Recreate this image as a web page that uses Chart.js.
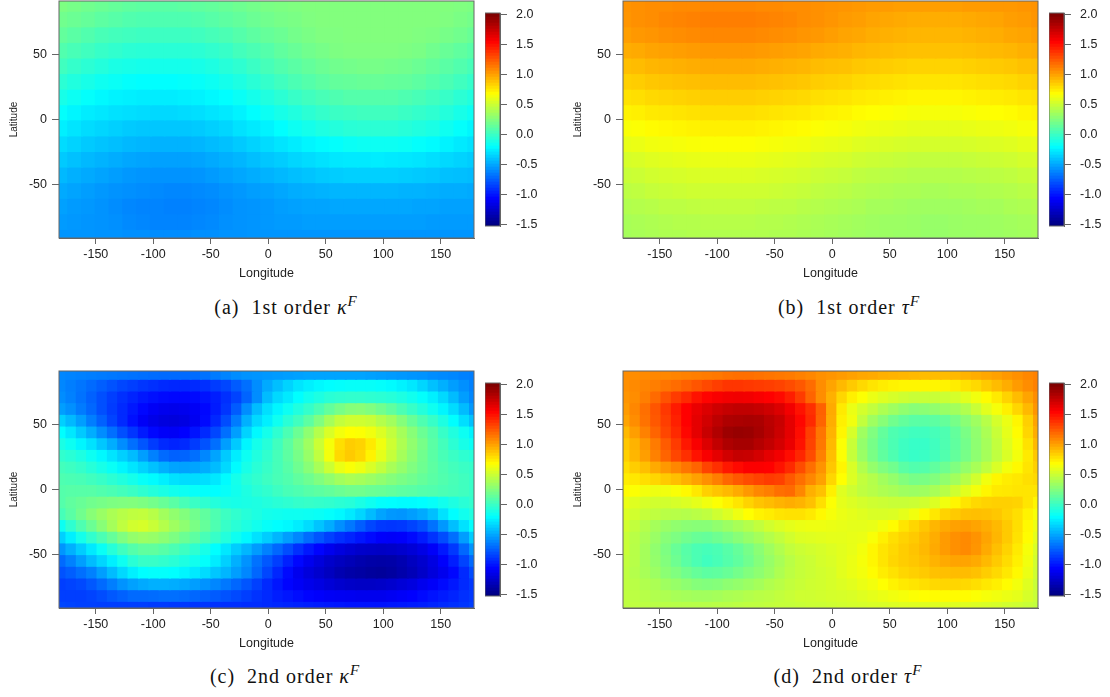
<!DOCTYPE html>
<html>
<head>
<meta charset="utf-8">
<title>Fitted surfaces</title>
<script src="https://cdn.jsdelivr.net/npm/chart.js@4/dist/chart.umd.js"></script>
<style>
    body { margin: 0; background: #fff; width: 1110px; height: 697px; position: relative; overflow: hidden; }
    canvas { position: absolute; }
    .cap { position: absolute; font-family: "Liberation Serif", serif; font-size: 20px; letter-spacing: 1px; color: #111; white-space: pre; transform: translateX(-50%); line-height: 24px; }
    .cap i { font-size: 20px; }
    .cap sup { font-size: 15px; font-style: italic; line-height: 0; }
</style>
</head>
<body>
<script>
// ============================================================================
// DATA (all cell values in hundredths)
// ============================================================================
const lonsFirst = [-180,-168,-156,-144,-132,-120,-108,-96,-84,-72,-60,-48,-36,-24,-12,0,12,24,36,48,60,72,84,96,108,120,132,144,156,168,180];
const latsFirst = [90,78,66,54,42,30,18,6,-6,-18,-30,-42,-54,-66,-78,-90];

const lonsSecond = [-180,-171,-162,-153,-144,-135,-126,-117,-108,-99,-90,-81,-72,-63,-54,-45,-36,-27,-18,-9,0,9,18,27,36,45,54,63,72,81,90,99,108,117,126,135,144,153,162,171,180];
const latsSecond = [90,81,72,63,54,45,36,27,18,9,0,-9,-18,-27,-36,-45,-54,-63,-72,-81,-90];

const kappa1 = [
[24,22,20,18,16,14,13,12,12,13,14,15,17,19,21,23,24,25,26,26,26,26,26,26,26,26,26,26,26,25,24],
[20,18,16,13,11,9,8,8,8,8,9,11,13,15,18,20,22,23,25,26,26,26,26,26,26,26,26,26,25,23,21],
[15,12,9,6,4,3,2,2,2,2,3,5,7,10,13,16,18,21,23,25,25,26,26,26,26,26,25,24,22,20,17],
[9,6,3,0,-2,-4,-5,-5,-5,-5,-4,-2,0,4,7,10,14,17,20,22,24,25,25,25,25,24,23,20,17,14,11],
[3,-1,-4,-7,-10,-11,-12,-12,-12,-12,-11,-9,-6,-3,1,5,9,12,15,18,20,21,22,22,21,20,18,15,12,9,5],
[-4,-8,-11,-14,-16,-18,-19,-19,-19,-18,-17,-15,-12,-9,-5,-1,3,7,10,13,15,16,17,17,16,15,13,10,7,3,-1],
[-11,-15,-18,-21,-23,-24,-25,-25,-25,-24,-23,-21,-19,-16,-12,-8,-4,0,3,6,8,10,10,10,10,8,6,3,0,-4,-8],
[-18,-22,-25,-27,-29,-30,-31,-32,-32,-31,-30,-28,-26,-23,-19,-15,-11,-8,-4,-1,1,2,3,3,3,1,-1,-3,-7,-11,-15],
[-24,-28,-31,-33,-35,-37,-38,-38,-38,-38,-37,-35,-33,-29,-26,-23,-19,-15,-12,-9,-7,-5,-4,-4,-4,-6,-8,-10,-14,-18,-22],
[-31,-34,-37,-39,-41,-43,-44,-45,-45,-45,-44,-42,-40,-37,-34,-31,-28,-25,-22,-20,-18,-16,-15,-15,-15,-16,-18,-20,-23,-26,-29],
[-37,-40,-43,-45,-47,-49,-50,-51,-51,-51,-50,-48,-46,-44,-41,-38,-36,-33,-31,-29,-27,-26,-26,-25,-26,-27,-28,-30,-32,-34,-36],
[-43,-46,-48,-50,-52,-54,-55,-56,-56,-56,-55,-53,-51,-49,-47,-45,-43,-41,-39,-37,-36,-35,-35,-35,-35,-36,-37,-38,-40,-41,-42],
[-48,-50,-52,-54,-56,-57,-58,-59,-60,-60,-59,-58,-56,-54,-52,-51,-49,-47,-46,-45,-44,-44,-44,-44,-44,-45,-45,-46,-47,-47,-48],
[-51,-53,-54,-56,-58,-60,-61,-61,-62,-62,-61,-60,-58,-56,-55,-54,-52,-51,-50,-50,-49,-49,-49,-49,-49,-49,-50,-50,-51,-51,-51],
[-53,-54,-55,-56,-57,-59,-60,-61,-61,-61,-60,-59,-57,-56,-55,-54,-53,-53,-52,-52,-52,-52,-52,-52,-52,-52,-52,-53,-53,-53,-53],
[-55,-55,-55,-56,-56,-57,-57,-58,-58,-58,-57,-57,-56,-56,-55,-55,-55,-55,-55,-55,-55,-55,-55,-55,-55,-55,-55,-55,-55,-55,-55]
];

const tau1 = [
[106,107,108,108,109,109,110,110,110,110,109,109,108,108,107,106,105,104,103,103,102,102,102,102,102,103,103,104,104,105,106],
[105,107,108,110,111,112,113,113,113,113,112,111,110,108,107,105,103,102,100,99,98,97,97,97,97,98,99,100,102,103,105],
[102,104,105,107,108,109,110,110,110,110,109,108,107,105,104,102,100,99,97,96,95,94,94,94,94,95,96,97,99,100,102],
[97,98,100,101,102,103,104,104,104,104,103,102,101,100,98,97,96,94,93,92,91,90,90,90,90,91,92,93,94,96,97],
[91,92,94,95,96,97,98,98,98,98,97,96,95,94,92,91,90,88,87,86,85,84,84,84,84,85,86,87,88,90,91],
[85,86,88,89,90,91,92,92,92,92,91,90,89,88,86,85,84,82,81,80,79,78,78,78,78,79,80,81,82,84,85],
[79,80,82,83,84,85,86,86,86,86,85,84,83,82,80,79,78,76,75,74,73,72,72,72,72,73,74,75,76,78,79],
[73,74,76,77,78,79,80,80,80,80,79,78,77,76,74,73,72,70,69,68,67,66,66,66,66,67,68,69,70,72,73],
[67,68,70,71,72,73,74,74,74,74,73,72,71,70,68,67,66,64,63,62,61,60,60,60,60,61,62,63,64,66,67],
[61,62,64,65,66,67,68,68,68,68,67,66,65,64,62,61,60,58,57,56,55,54,54,54,54,55,56,57,58,60,61],
[55,56,58,59,60,61,62,62,62,62,61,60,59,58,56,55,54,52,51,50,49,48,48,48,48,49,50,51,52,54,55],
[50,51,53,54,55,56,57,57,57,57,56,55,54,53,51,50,49,47,46,45,44,43,43,43,43,44,45,46,47,49,50],
[46,47,49,50,51,52,52,52,52,52,52,51,50,49,47,46,45,43,42,41,40,40,39,39,40,40,41,42,43,45,46],
[42,43,44,46,46,47,48,48,48,48,47,46,46,44,43,42,41,40,38,38,37,36,36,36,36,37,38,38,40,41,42],
[39,40,41,42,43,43,44,44,44,44,43,43,42,41,40,39,38,37,36,35,35,34,33,33,34,35,35,36,37,38,39],
[38,39,40,41,41,42,42,42,42,42,42,41,41,40,39,38,37,36,35,35,34,34,33,33,34,34,35,35,36,37,38]
];

const kappa2 = [
[-60,-61,-62,-63,-64,-65,-66,-67,-68,-69,-70,-70,-70,-69,-67,-64,-61,-58,-56,-55,-54,-53,-52,-51,-50,-50,-50,-50,-50,-50,-51,-52,-53,-54,-55,-56,-58,-59,-60,-62,-63],
[-60,-63,-66,-70,-74,-78,-82,-85,-88,-90,-92,-93,-93,-92,-90,-86,-82,-75,-68,-58,-48,-41,-34,-28,-24,-21,-19,-18,-17,-17,-17,-18,-20,-23,-27,-33,-40,-46,-52,-57,-62],
[-58,-62,-67,-73,-79,-85,-90,-94,-98,-101,-103,-104,-104,-103,-100,-96,-90,-83,-72,-58,-42,-32,-26,-19,-13,-9,-5,-3,-2,-2,-3,-4,-6,-9,-13,-18,-24,-32,-42,-52,-60],
[-52,-57,-64,-71,-79,-86,-92,-98,-104,-109,-112,-113,-112,-109,-104,-97,-88,-75,-58,-42,-30,-22,-15,-8,-1,7,15,22,27,28,25,20,14,7,0,-7,-14,-22,-31,-42,-54],
[-35,-43,-52,-63,-73,-83,-92,-101,-109,-114,-117,-118,-116,-111,-103,-93,-80,-64,-46,-32,-24,-14,-5,3,13,25,38,48,52,52,50,43,37,27,17,8,0,-9,-19,-30,-40],
[-19,-27,-37,-47,-58,-68,-79,-88,-97,-104,-108,-109,-106,-100,-92,-82,-68,-52,-34,-21,-12,-3,7,18,30,43,56,65,69,68,64,57,48,38,28,18,10,0,-8,-15,-23],
[-10,-15,-22,-29,-38,-47,-58,-68,-77,-86,-92,-94,-92,-86,-78,-68,-52,-37,-22,-12,-6,3,13,24,36,51,66,80,86,84,76,64,52,41,31,22,12,4,-4,-11,-16],
[-2,-5,-9,-15,-21,-28,-35,-42,-52,-62,-70,-73,-72,-68,-60,-50,-37,-25,-15,-8,-2,5,13,22,33,47,65,82,87,83,73,60,49,38,29,20,12,6,1,-3,-6],
[4,2,-1,-6,-11,-16,-22,-28,-34,-40,-46,-50,-51,-50,-47,-42,-32,-20,-11,-5,0,5,11,19,28,39,51,62,67,63,56,48,39,32,25,19,13,8,4,1,-1],
[8,7,6,3,0,-4,-8,-12,-17,-20,-24,-29,-31,-31,-30,-27,-20,-12,-6,-2,2,6,9,14,19,25,31,37,40,38,35,31,27,23,20,16,12,9,6,3,0],
[10,11,11,11,9,7,4,1,-3,-7,-10,-13,-15,-17,-18,-19,-17,-13,-9,-5,-2,2,6,8,11,13,15,18,20,20,18,17,15,13,12,10,9,7,5,3,0],
[10,14,17,20,22,24,25,26,24,21,17,12,6,1,-3,-7,-10,-11,-10,-9,-7,-5,-3,-1,0,-1,-2,-4,-6,-10,-14,-18,-19,-20,-20,-19,-17,-13,-9,-5,-2],
[5,12,20,28,34,40,44,47,48,44,37,31,26,20,14,8,2,-2,-6,-9,-12,-13,-14,-14,-15,-16,-18,-21,-26,-33,-42,-50,-54,-55,-52,-48,-41,-29,-19,-13,-8],
[-15,-3,8,18,28,38,47,53,55,50,43,36,30,23,16,8,0,-5,-9,-13,-17,-19,-21,-25,-31,-39,-47,-57,-65,-74,-82,-87,-88,-87,-83,-78,-67,-54,-41,-29,-18],
[-35,-24,-12,-2,7,16,25,32,35,33,29,24,18,13,6,0,-7,-14,-21,-29,-36,-44,-52,-60,-69,-77,-84,-90,-94,-99,-103,-107,-108,-107,-103,-97,-89,-80,-68,-52,-36],
[-55,-46,-36,-26,-16,-6,3,10,14,14,11,7,2,-3,-11,-19,-27,-36,-44,-53,-62,-71,-80,-90,-98,-105,-112,-117,-121,-124,-125,-126,-125,-123,-120,-115,-108,-98,-87,-71,-55],
[-70,-62,-52,-42,-33,-24,-14,-5,0,0,-2,-5,-9,-13,-18,-25,-35,-46,-56,-67,-76,-85,-95,-104,-112,-118,-124,-128,-131,-134,-136,-137,-136,-133,-128,-123,-116,-107,-96,-83,-70],
[-78,-74,-68,-62,-52,-42,-32,-24,-19,-18,-18,-19,-22,-26,-31,-38,-44,-52,-60,-71,-82,-93,-103,-112,-118,-123,-128,-133,-136,-138,-140,-141,-139,-135,-131,-125,-118,-112,-104,-92,-80],
[-85,-83,-81,-76,-70,-63,-56,-51,-48,-46,-46,-47,-49,-52,-56,-60,-65,-71,-77,-84,-92,-99,-105,-109,-113,-116,-120,-123,-125,-126,-126,-125,-123,-120,-117,-112,-108,-103,-98,-92,-87],
[-85,-85,-85,-83,-80,-76,-73,-70,-70,-69,-68,-68,-69,-71,-73,-75,-78,-81,-85,-89,-92,-96,-99,-102,-105,-107,-109,-110,-111,-112,-112,-112,-110,-108,-106,-103,-100,-97,-94,-90,-87],
[-82,-83,-84,-84,-85,-85,-85,-85,-85,-86,-86,-87,-87,-88,-88,-89,-90,-90,-91,-91,-92,-93,-94,-95,-96,-97,-98,-99,-100,-100,-100,-100,-99,-98,-97,-96,-94,-92,-90,-88,-85]
];

const tau2 = [
[108,108,109,110,110,111,112,113,114,115,117,118,118,117,116,115,114,112,110,107,105,103,101,99,98,96,95,94,93,92,92,92,93,95,97,99,101,104,107,110,112],
[107,109,111,113,116,119,123,127,131,135,138,138,137,136,135,133,130,126,119,108,100,93,87,82,78,75,73,72,72,72,72,73,75,79,82,87,92,97,103,108,112],
[105,108,113,120,128,136,142,150,155,158,160,161,160,158,156,153,146,136,122,108,96,83,74,68,62,58,55,52,50,50,50,51,54,59,64,70,76,84,92,100,108],
[103,110,118,127,137,147,156,163,168,173,176,178,178,176,173,168,160,150,140,123,98,76,62,54,48,41,36,31,28,29,31,34,37,42,50,59,66,74,83,93,105],
[100,108,117,126,135,145,156,165,172,179,184,185,186,185,180,175,165,154,142,122,97,74,64,48,36,28,20,15,12,12,13,16,22,29,36,44,54,62,72,85,100],
[93,102,112,122,132,142,154,165,175,183,190,192,191,187,181,174,165,152,135,116,95,72,55,36,25,15,8,5,3,3,5,8,15,23,31,40,50,60,70,83,97],
[88,95,104,114,125,136,148,158,168,177,184,187,187,182,177,171,163,150,133,115,93,68,50,32,22,13,7,2,0,0,3,8,14,21,30,38,48,58,67,79,93],
[85,94,102,112,122,132,140,150,158,165,172,176,175,171,165,160,152,143,130,112,91,68,49,34,23,14,8,2,0,1,4,9,15,22,30,38,47,56,65,76,88],
[80,86,91,98,104,110,116,122,133,140,148,153,157,157,156,150,142,130,118,106,88,72,56,42,32,25,20,12,9,10,14,19,25,32,39,47,56,65,71,78,85],
[75,77,80,83,87,91,96,101,107,113,121,126,130,133,136,134,126,118,110,101,83,69,57,48,43,37,32,26,22,23,26,31,37,44,53,64,72,75,77,80,82],
[70,68,65,63,64,67,71,77,85,89,93,98,104,110,113,118,120,110,96,90,74,58,52,47,44,41,39,36,35,36,39,44,52,59,65,72,76,77,78,78,78],
[62,58,55,53,53,55,57,60,64,68,73,78,84,89,92,95,97,95,90,80,68,60,57,54,52,51,50,50,51,53,57,64,72,78,82,84,85,85,84,78,72],
[57,53,49,47,45,44,43,45,47,52,57,63,69,73,75,78,79,79,76,71,66,62,60,58,56,56,57,60,64,71,77,84,87,90,91,90,88,84,80,73,67],
[53,48,43,38,34,31,29,28,28,31,35,39,43,48,53,57,60,62,63,63,62,61,60,60,61,65,70,78,83,88,94,98,101,102,100,97,93,87,80,71,63],
[50,45,40,34,28,24,20,17,16,19,23,28,33,38,43,48,53,57,58,59,60,60,61,62,67,74,80,84,87,92,97,103,107,109,106,100,94,87,79,70,60],
[50,44,38,31,24,17,11,7,5,7,11,16,22,29,36,42,48,51,53,55,57,59,61,65,72,78,82,86,89,93,98,103,107,109,105,98,91,84,76,66,56],
[48,44,38,32,26,19,12,7,3,6,10,14,20,27,33,39,45,49,51,54,56,59,62,66,72,78,83,86,88,91,95,98,100,100,98,93,87,81,74,64,53],
[47,43,39,35,29,25,20,16,13,14,17,21,26,30,35,41,46,49,51,53,55,59,62,65,70,75,79,83,85,87,90,91,92,92,90,86,82,77,71,62,52],
[47,45,42,40,36,33,30,27,26,27,30,32,35,38,42,45,48,50,52,53,55,57,59,62,65,69,73,76,78,80,82,83,83,82,80,77,74,70,65,58,50],
[47,46,44,42,41,39,38,37,37,38,40,41,43,45,46,48,50,52,52,53,54,55,56,58,60,62,64,66,68,69,70,70,70,70,68,66,64,62,60,55,50],
[47,47,46,45,45,44,44,44,44,45,45,46,47,47,48,49,49,50,51,51,52,53,54,55,56,56,57,58,58,58,58,58,58,58,57,56,55,53,52,50,48]
];

// colour bar levels, also in hundredths
const levels = [-150,-145,-140,-135,-130,-125,-120,-115,-110,-105,-100,-95,-90,-85,-80,-75,-70,-65,-60,-55,-50,-45,-40,-35,-30,-25,-20,-15,-10,-5,0,5,10,15,20,25,30,35,40,45,50,55,60,65,70,75,80,85,90,95,100,105,110,115,120,125,130,135,140,145,150,155,160,165,170,175,180,185,190,195,200];

// colour ramp
const rampValues = [-150, -106, -19, 69, 156, 200];
const rampColors = [[0,0,128],[0,0,255],[0,255,255],[255,255,0],[255,0,0],[128,0,0]];

const TEXT = "#222";
const LINE = "#666";
const FONT = "'Liberation Sans', Arial, sans-serif";

// ============================================================================
// Helpers
// ============================================================================
function toColor(v) {
    let i = 0;
    while (i < rampValues.length - 2 && v > rampValues[i + 1]) i++;
    const t = Math.min(1, Math.max(0, (v - rampValues[i]) / (rampValues[i + 1] - rampValues[i])));
    const a = rampColors[i], b = rampColors[i + 1];
    return `rgb(${a.map((c, k) => Math.round(c + (b[k] - c) * t)).join(",")})`;
}

// thin frame round the plot area
const framePlugin = {
    id: "frame",
    afterDraw(chart) {
        const a = chart.chartArea, ctx = chart.ctx;
        ctx.save();
        ctx.strokeStyle = LINE;
        ctx.lineWidth = 1;
        ctx.strokeRect(a.left, a.top, a.right - a.left, a.bottom - a.top);
        ctx.restore();
    }
};

function addCanvas(left, top, w, h) {
    const c = document.createElement("canvas");
    c.width = w;
    c.height = h;
    c.style.left = left + "px";
    c.style.top = top + "px";
    c.style.width = w + "px";
    c.style.height = h + "px";
    document.body.appendChild(c);
    return c;
}

// the tick labels must not push the plot area in
function noPadding(s) {
    s.paddingTop = 0;
    s.paddingBottom = 0;
    s.paddingLeft = 0;
    s.paddingRight = 0;
}

// ============================================================================
// Heat map: one floating bar per cell, one dataset per latitude row
// ============================================================================
function drawMap(left, top, rows, lons, lats) {
    const half = Math.abs(lats[0] - lats[1]) / 2;
    const datasets = rows.map((row, r) => ({
        data: row.map((v, c) => ({ x: lons[c], y: [lats[r] - half, lats[r] + half] })),
        backgroundColor: row.map(toColor),
        borderWidth: 0,
        inflateAmount: 1,
        barPercentage: 1,
        categoryPercentage: 1
    }));

    new Chart(addCanvas(left, top, 480, 285), {
        type: "bar",
        data: { datasets },
        plugins: [framePlugin],
        options: {
            responsive: false,
            animation: false,
            layout: { padding: { top: 1, right: 6, left: 0, bottom: 0 } },
            plugins: { legend: { display: false }, tooltip: { enabled: false } },
            scales: {
                x: {
                    type: "linear",
                    stacked: true,
                    offset: false,
                    min: -182,
                    max: 179,
                    afterFit: s => { s.height = 47; noPadding(s); },
                    border: { color: LINE },
                    grid: { offset: false, drawOnChartArea: false, color: LINE, tickLength: 6 },
                    ticks: { stepSize: 50, includeBounds: false, maxRotation: 0, color: TEXT, font: { family: FONT, size: 12.5 }, padding: 3 },
                    title: { display: true, text: "Longitude", color: TEXT, font: { family: FONT, size: 12.5 }, padding: { top: 3, bottom: 4 } }
                },
                y: {
                    type: "linear",
                    offset: false,
                    min: -91,
                    max: 91.5,
                    afterFit: s => { s.width = 59; noPadding(s); },
                    border: { color: LINE },
                    grid: { drawOnChartArea: false, color: LINE, tickLength: 7 },
                    ticks: { stepSize: 50, includeBounds: false, color: TEXT, font: { family: FONT, size: 12.5 }, padding: 5 },
                    title: { display: true, text: "Latitude", color: TEXT, font: { family: FONT, size: 10 }, padding: { top: 8, bottom: 6 } }
                }
            }
        }
    });
}

// ============================================================================
// Colour bar
// ============================================================================
function drawBar(left, top) {
    new Chart(addCanvas(left, top - 10, 70, 233), {
        type: "bar",
        data: {
            datasets: [{
                data: levels.map(v => ({ y: v / 100, x: [0, 1] })),
                backgroundColor: levels.map(toColor),
                borderWidth: 0,
                inflateAmount: 1,
                barPercentage: 1,
                categoryPercentage: 1
            }]
        },
        plugins: [framePlugin],
        options: {
            indexAxis: "y",
            responsive: false,
            animation: false,
            layout: { padding: { top: 10, right: 0, left: 0, bottom: 10 } },
            plugins: { legend: { display: false }, tooltip: { enabled: false } },
            scales: {
                x: { type: "linear", display: false, min: 0, max: 1 },
                y: {
                    type: "linear",
                    position: "right",
                    stacked: true,
                    offset: false,
                    min: -1.53,
                    max: 2.02,
                    afterFit: s => { s.width = 55; noPadding(s); },
                    border: { color: LINE },
                    grid: { offset: false, drawOnChartArea: false, color: LINE, tickLength: 7 },
                    ticks: {
                        stepSize: 0.5,
                        includeBounds: false,
                        color: TEXT,
                        font: { family: FONT, size: 12.5 },
                        padding: 9,
                        callback: v => v.toFixed(1)
                    }
                }
            }
        }
    });
}

function caption(cx, top, html) {
    const d = document.createElement("div");
    d.className = "cap";
    d.style.left = cx + "px";
    d.style.top = top + "px";
    d.innerHTML = html;
    document.body.appendChild(d);
}

// ============================================================================
// Panels
// ============================================================================
drawMap(0, 0, kappa1, lonsFirst, latsFirst);
drawMap(564, 0, tau1, lonsFirst, latsFirst);
drawMap(0, 370, kappa2, lonsSecond, latsSecond);
drawMap(564, 370, tau2, lonsSecond, latsSecond);

drawBar(485, 13);
drawBar(1049, 13);
drawBar(485, 383);
drawBar(1049, 383);

caption(286, 295, "(a)  1st order <i>κ</i><sup>F</sup>");
caption(849, 295, "(b)  1st order <i>τ</i><sup>F</sup>");
caption(285, 664, "(c)  2nd order <i>κ</i><sup>F</sup>");
caption(848, 664, "(d)  2nd order <i>τ</i><sup>F</sup>");
</script>
</body>
</html>
